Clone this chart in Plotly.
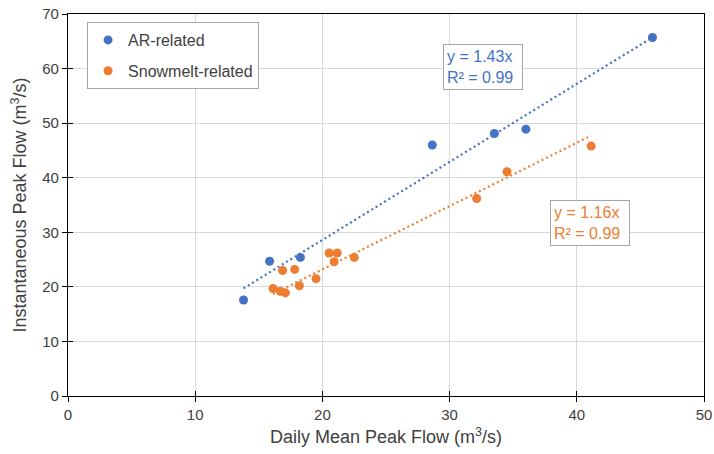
import plotly.graph_objects as go

# Daily mean vs instantaneous peak flow (m3/s)
ar_daily = [13.8, 15.85, 18.27, 28.64, 33.52, 36.0, 45.95]
ar_inst = [17.6, 24.7, 25.4, 46.0, 48.1, 48.9, 65.7]

snow_daily = [16.12, 16.69, 16.87, 17.09, 17.82, 18.19, 19.5, 20.53,
              20.92, 21.16, 22.5, 32.13, 34.51, 41.13]
snow_inst = [19.7, 19.2, 23.0, 18.9, 23.2, 20.2, 21.5, 26.2,
             24.6, 26.2, 25.4, 36.2, 41.1, 45.8]

# Zero-intercept trend fits
ar_slope, ar_r2 = 1.43, 0.99
snow_slope, snow_r2 = 1.16, 0.99

x_ticks = [0, 10, 20, 30, 40, 50]
y_ticks = [0, 10, 20, 30, 40, 50, 60, 70]

BLUE = "#4472C4"
ORANGE = "#ED7D31"
TEXT = "#404040"
FONT = "Liberation Sans, Arial, sans-serif"


def trend(xs, slope):
    x0, x1 = min(xs), max(xs)
    return [x0, x1], [slope * x0, slope * x1]


fig = go.Figure()

tx, ty = trend(ar_daily, ar_slope)
fig.add_trace(go.Scatter(x=tx, y=ty, mode="lines", showlegend=False,
                         line=dict(color=BLUE, width=2.2, dash="2px,3px"),
                         hoverinfo="skip"))
tx, ty = trend(snow_daily, snow_slope)
fig.add_trace(go.Scatter(x=tx, y=ty, mode="lines", showlegend=False,
                         line=dict(color=ORANGE, width=2.2, dash="2px,3px"),
                         hoverinfo="skip"))

fig.add_trace(go.Scatter(x=ar_daily, y=ar_inst, mode="markers", name="AR-related",
                         legendgroup="a",
                         marker=dict(color=BLUE, size=9)))
fig.add_trace(go.Scatter(x=snow_daily, y=snow_inst, mode="markers",
                         name="Snowmelt-related", legendgroup="b",
                         marker=dict(color=ORANGE, size=9)))

# Invisible trace on overlay axes that draw the inner half of each tick
fig.add_trace(go.Scatter(x=[0], y=[0], xaxis="x2", yaxis="y2", mode="markers",
                         marker=dict(opacity=0), showlegend=False,
                         hoverinfo="skip"))

axis_common = dict(
    showline=True, linecolor="black", linewidth=1.3, mirror=True,
    ticks="outside", ticklen=5, tickcolor="black", tickwidth=1,
    showgrid=True, gridcolor="#D9D9D9", gridwidth=1,
    zeroline=False, automargin=False,
    tickfont=dict(family=FONT, size=15, color=TEXT),
)

overlay_common = dict(
    ticks="inside", ticklen=5, tickcolor="black", tickwidth=1,
    showticklabels=False, showgrid=False, showline=False,
    zeroline=False, automargin=False,
)

fig.update_layout(
    width=714, height=454,
    margin=dict(l=68, r=10, t=14, b=58, autoexpand=False),
    paper_bgcolor="white", plot_bgcolor="white",
    font=dict(family=FONT, color=TEXT),
    xaxis=dict(range=[0, 50], tickvals=x_ticks,
               title=dict(text="Daily Mean Peak Flow (m<sup>3</sup>/s)",
                          font=dict(family=FONT, size=18, color=TEXT),
                          standoff=8),
               **axis_common),
    yaxis=dict(range=[0, 70], tickvals=y_ticks,
               title=dict(text="Instantaneous Peak Flow (m<sup>3</sup>/s)",
                          font=dict(family=FONT, size=18, color=TEXT),
                          standoff=10),
               **axis_common),
    xaxis2=dict(range=[0, 50], tickvals=x_ticks, overlaying="x", anchor="y2",
                **overlay_common),
    yaxis2=dict(range=[0, 70], tickvals=y_ticks, overlaying="y", anchor="x2",
                **overlay_common),
    legend=dict(x=0.03, y=0.979, xanchor="left", yanchor="top",
                bgcolor="white", bordercolor="#A6A6A6", borderwidth=1,
                font=dict(family=FONT, size=16, color=TEXT),
                tracegroupgap=7, itemwidth=30),
    showlegend=True,
)

fig.add_annotation(x=32.6, y=60.2, xref="x", yref="y", showarrow=False,
                   text=f"y = {ar_slope:.2f}x<br>R² = {ar_r2:.2f}",
                   align="left", width=72,
                   font=dict(family=FONT, size=16, color=BLUE),
                   bgcolor="white", bordercolor="#A6A6A6", borderwidth=1,
                   borderpad=3)
fig.add_annotation(x=41.05, y=31.7, xref="x", yref="y", showarrow=False,
                   text=f"y = {snow_slope:.2f}x<br>R² = {snow_r2:.2f}",
                   align="left", width=72,
                   font=dict(family=FONT, size=16, color=ORANGE),
                   bgcolor="white", bordercolor="#A6A6A6", borderwidth=1,
                   borderpad=3)

fig.write_html("out.html")
